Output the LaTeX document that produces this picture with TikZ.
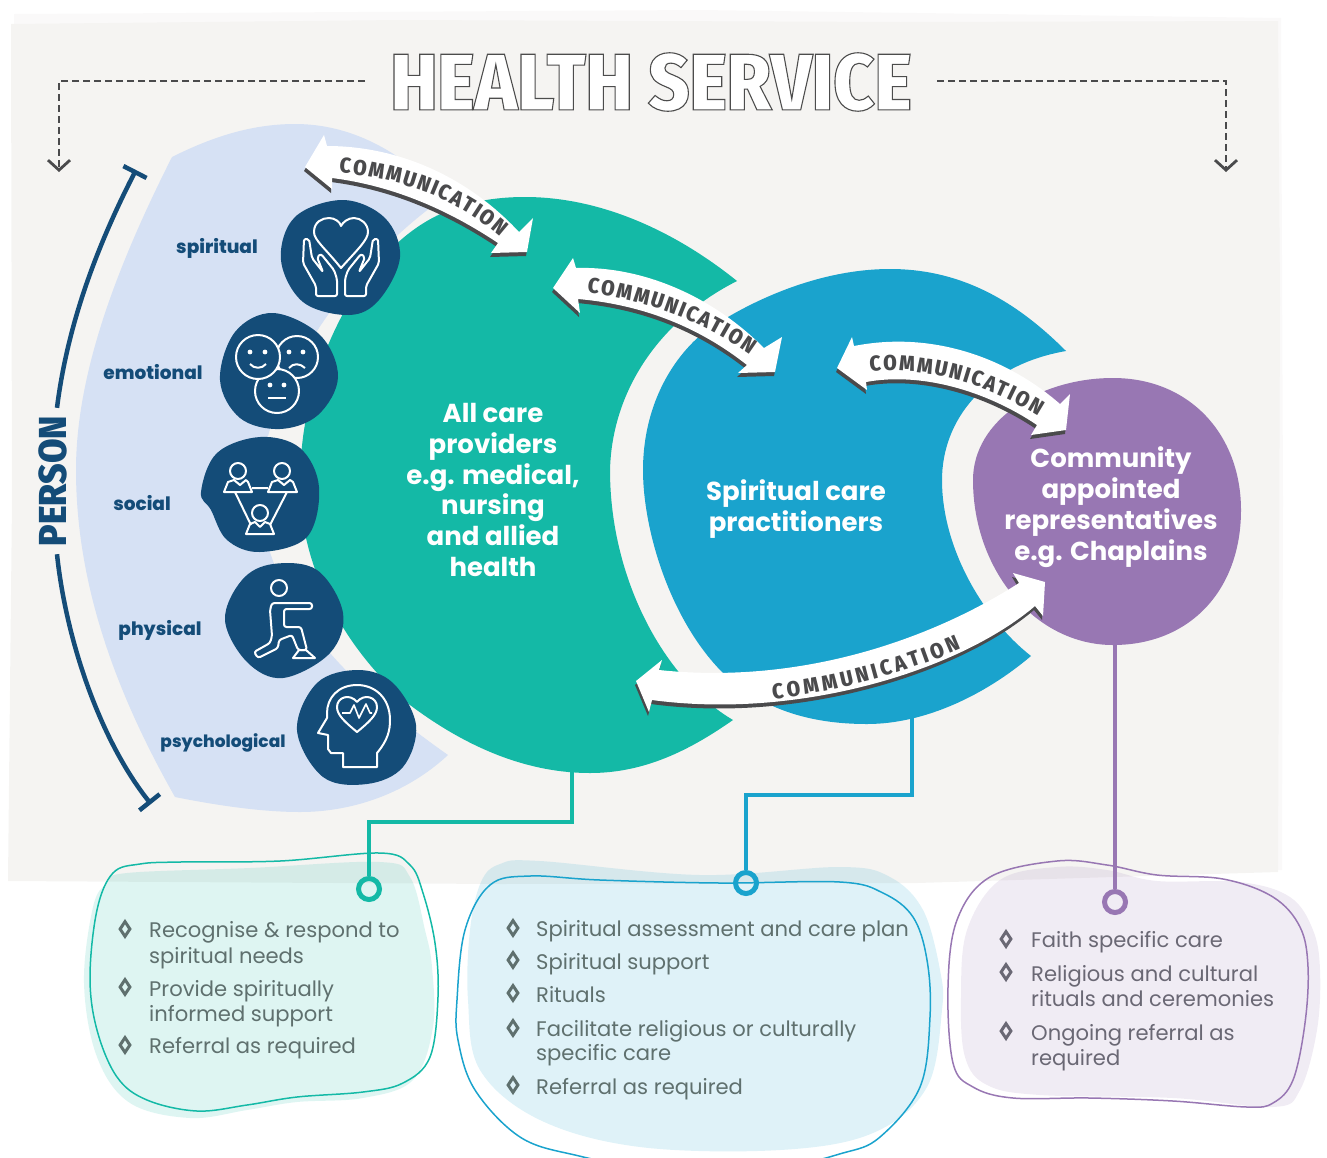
\documentclass[tikz,border=0pt]{standalone}
\usepackage{fontspec}
\usepackage{graphicx}
\setmainfont{Poppins}
\newfontfamily\narrowfont{Fira Sans Condensed ExtraBold}
\newfontfamily\heavyfont{Poppins ExtraBold}
\usetikzlibrary{arrows.meta,shapes.geometric,decorations.text}

\definecolor{paper}{HTML}{F5F4F2}
\definecolor{personblue}{HTML}{D6E1F4}
\definecolor{navy}{HTML}{144C78}
\definecolor{careteal}{HTML}{14B9A6}
\definecolor{careblue}{HTML}{1AA3CD}
\definecolor{carepurple}{HTML}{9877B3}
\definecolor{inkgrey}{HTML}{4A4A4C}
\definecolor{listgrey}{HTML}{5F706E}
\definecolor{listmauve}{HTML}{6A6874}

\newcommand{\commfont}{\fontsize{21.5}{22}\narrowfont\color{inkgrey}}

\tikzset{
    blobline/.style={line width=1.5pt},
    mainlabel/.style={text=white,align=center,font=\fontsize{26}{30.8}\selectfont\bfseries,inner sep=0},
    domainlabel/.style={text=navy,font=\fontsize{18.5}{20}\heavyfont,inner sep=0},
    iconline/.style={draw=white,line width=2pt,line join=round},
    dashline/.style={draw=inkgrey,line width=2.8pt,dash pattern=on 7pt off 4pt,-{Straight Barb[length=10pt,width=22pt,line width=2.8pt]}},
    personline/.style={draw=navy,line width=4.5pt,-{Bar[width=26pt,line width=4.5pt]}},
    ringmark/.style={circle,draw=#1,line width=5pt,minimum size=21pt,inner sep=0},
    stemline/.style={draw=#1,line width=4.5pt},
    listtext/.style={anchor=base west,inner sep=0,text=#1,font=\fontsize{21.1}{24}\selectfont},
    bulletmark/.style={diamond,draw=#1,line width=3pt,aspect=.7,minimum width=11pt,minimum height=16pt,inner sep=0},
    commlabel/.style={decorate,decoration={text along path,text align={fit to path},text={|\commfont|COMMUNICATION}}}
}

\newcommand{\commband}[2]{%
    \fill[inkgrey,shift={(-1,4)}] #1;
    \fill[white] #1;
    \path[commlabel] #2;
}

\begin{document}
\begin{tikzpicture}[x=1pt,y=-1pt,tension=.6]
    \useasboundingbox (0,0) rectangle (1327,1157);

    % paper
    \fill[paper!50!white] (14,14) -- (700,10) -- (1281,18) -- (1283,500) -- (1282,870) -- (14,880) -- cycle;
    \fill[paper] (11,24) -- (400,20) -- (900,22) -- (1278,21) -- (1280,300) -- (1278,872) -- (917,883) -- (500,884) -- (8,881) -- (12,500) -- cycle;

    % title
    \node (title) at (651,82) {\scalebox{.98}[1]{\fontsize{80}{80}\narrowfont\color{white}\special{pdf:code 2 Tr 1.1 w 0.3 0.3 0.3 RG}HEALTH SERVICE\special{pdf:code 0 Tr}}};
    \coordinate (dashleft) at (365,81);
    \coordinate (dashright) at (937,81);
    \coordinate (arrowleft) at (59,172);
    \coordinate (arrowright) at (1226,172);
    \draw[dashline] (dashleft) -| (arrowleft);
    \draw[dashline] (dashright) -| (arrowright);

    % person crescent
    \fill[personblue] (172,157) .. controls (120,260) and (76,370) .. (76,470)
        .. controls (76,590) and (120,700) .. (175,797)
        .. controls (230,808) and (270,812) .. (300,812)
        .. controls (350,812) and (405,795) .. (448,755)
        .. controls (370,700) and (260,610) .. (260,490)
        .. controls (260,400) and (340,270) .. (445,197)
        .. controls (400,150) and (350,124) .. (295,124)
        .. controls (250,124) and (210,138) .. (172,157) -- cycle;

    % care groups
    \fill[careteal] (737,281) .. controls (680,235) and (605,197) .. (525,197)
        .. controls (440,197) and (390,235) .. (345,310)
        .. controls (315,365) and (299,425) .. (300,490)
        .. controls (302,570) and (345,650) .. (410,705)
        .. controls (470,750) and (530,773) .. (590,773)
        .. controls (645,773) and (690,750) .. (733,720)
        .. controls (665,680) and (610,580) .. (610,470)
        .. controls (612,390) and (660,320) .. (737,281) -- cycle;
    \fill[careblue] (1066,351) .. controls (1020,305) and (965,269) .. (890,269)
        .. controls (820,269) and (750,300) .. (703,333)
        .. controls (665,365) and (643,415) .. (643,470)
        .. controls (643,530) and (670,620) .. (723,673)
        .. controls (765,712) and (815,724) .. (867,724)
        .. controls (925,724) and (985,695) .. (1031,656)
        .. controls (985,620) and (942,550) .. (942,480)
        .. controls (942,420) and (985,365) .. (1066,351) -- cycle;
    \fill[carepurple] (973,480) .. controls (973,420) and (1040,378) .. (1113,378)
        .. controls (1190,378) and (1241,435) .. (1241,510)
        .. controls (1241,590) and (1190,645) .. (1113,645)
        .. controls (1035,645) and (973,570) .. (973,480) -- cycle;

    \node[mainlabel] (allcare) at (493,490) {All care\\providers\\e.g. medical,\\nursing\\and allied\\health};
    \node[mainlabel] (spiritualcare) at (796,509) {Spiritual care\\practitioners};
    \node[mainlabel] (community) at (1111,507) {Community\\appointed\\representatives\\e.g. Chaplains};

    % person bracket
    \node[rotate=90,text=navy,inner sep=0,font=\fontsize{39}{40}\narrowfont] (person) at (53,481) {PERSON};
    \coordinate (persontop) at (136,170);
    \coordinate (personbottom) at (151,804);
    \draw[personline] (person.east) ++(4,-8) .. controls (68,320) and (100,240) .. (persontop);
    \draw[personline] (person.west) ++(4,8) .. controls (66,640) and (100,740) .. (personbottom);

    % domains
    \fill[navy] plot[smooth cycle] coordinates {(343,200) (385,218) (400,257) (379,300) (349,315) (303,302) (281,260) (295,217)};
    \fill[navy] plot[smooth cycle] coordinates {(273,313) (320,335) (338,377) (318,415) (280,429) (240,418) (220,380) (235,332)};
    \fill[navy] plot[smooth cycle] coordinates {(260,437) (300,448) (319,487) (307,537) (260,552) (227,540) (211,510) (201,492) (217,453)};
    \fill[navy] plot[smooth cycle] coordinates {(273,564) (317,570) (343,613) (330,653) (283,678) (247,662) (225,620) (242,580)};
    \fill[navy] plot[smooth cycle] coordinates {(358,670) (393,683) (416,725) (403,767) (367,784) (323,777) (297,730) (317,683)};

    \node[domainlabel] (spiritual) at (217,248) {spiritual};
    \node[domainlabel] (emotional) at (153,372) {emotional};
    \node[domainlabel] (social) at (142,503) {social};
    \node[domainlabel] (physical) at (160,630) {physical};
    \node[domainlabel,font=\fontsize{17}{20}\heavyfont] (psychological) at (223,743) {psychological};

    % spiritual icon
    \draw[iconline] (341,268) .. controls (325,248) and (314,240) .. (314,232) .. controls (314,222) and (322,218) .. (329,218) .. controls (335,218) and (340,222) .. (341,226) .. controls (343,222) and (348,218) .. (354,218) .. controls (361,218) and (368,224) .. (368,232) .. controls (368,240) and (357,250) .. (341,268) -- cycle;
    \foreach \s in {1,-1} {
        \begin{scope}[shift={(341,0)},xscale=\s]
            \draw[iconline,rounded corners=2pt] (-25,296) -- (-25,286) -- (-38,263) -- (-37,239) -- (-32,239) -- (-29,258) -- (-18,272) -- (-24,257) -- (-20,254) -- (-7,270) -- (-4,279) -- (-4,296) -- cycle;
        \end{scope}
    }

    % emotional icon
    \draw[iconline] (297,357) circle (21);
    \draw[iconline,fill=navy] (277,391) circle (22);
    \draw[iconline,fill=navy] (258,357) circle (22);
    \fill[white] (250,352) circle (2.4) (265,352) circle (2.4) (289,352) circle (2.4) (303,352) circle (2.4) (270,385) circle (2.4) (284,385) circle (2.4);
    \draw[iconline] (250,364) .. controls (254,369) and (262,369) .. (266,364);
    \draw[iconline] (289,368) .. controls (293,363) and (300,363) .. (305,368);
    \draw[iconline] (268,398) -- (286,398);

    % social icon
    \draw[iconline] (238,471) circle (8) (282,471) circle (8) (260,513) circle (8);
    \draw[iconline] (224,492) -- (228,482) -- (234,480) -- (240,485) -- (246,480) -- (248,482) -- (252,492) -- cycle;
    \draw[iconline] (268,492) -- (272,482) -- (278,480) -- (284,485) -- (290,480) -- (293,482) -- (297,492) -- cycle;
    \draw[iconline] (246,534) -- (250,524) -- (255,522) -- (260,527) -- (265,522) -- (270,524) -- (274,534) -- cycle;
    \draw[iconline] (252,488) -- (268,488) (235,492) -- (251,525) (287,492) -- (270,525);

    % physical icon
    \draw[iconline] (279,588) circle (8);
    \draw[iconline,rounded corners=2.5pt] (272,603) -- (312,603) -- (312,609) -- (284,609) -- (284,627) -- (301,627) -- (307,650) -- (298,650) -- (292,635) -- (279,640) -- (278,648) -- (258,658) -- (254,652) -- (270,643) -- (272,636) -- (270,610) -- cycle;
    \draw[iconline] (293,658) -- (315,658) -- (306,650) -- (299,650) -- cycle;

    % psychological icon
    \draw[iconline] (343,767) -- (377,767) -- (377,753) .. controls (388,740) and (390,730) .. (390,720) .. controls (390,698) and (375,685) .. (357,685) .. controls (338,685) and (327,698) .. (327,713) -- (327,718) -- (318,733) -- (328,735) -- (328,749) -- (331,753) -- (343,753) -- cycle;
    \draw[iconline] (357,732) .. controls (345,722) and (337,715) .. (337,707) .. controls (337,697) and (350,693) .. (357,702) .. controls (364,693) and (377,697) .. (377,707) .. controls (377,715) and (369,722) .. (357,732) -- cycle;
    \draw[iconline,line width=1.6pt] (342,713) -- (350,713) -- (354,705) -- (359,718) -- (366,704) -- (370,713) -- (372,713);

    % communication arrows
    \commband{(305,167) -- (324,135) -- (327,146) .. controls (395,146) and (465,174) .. (519,232) -- (533,218) -- (527,252) -- (491,253) -- (498,243) .. controls (450,211) and (395,186) .. (332,178) -- (332,189) -- cycle}
        {(339,173) .. controls (395,177) and (455,197) .. (500,237)}
    \commband{(553,288) -- (573,258) -- (576,268) .. controls (640,266) and (710,294) .. (764,348) -- (782,337) -- (775,372) -- (738,373) -- (747,365) .. controls (700,328) and (645,305) .. (578,299) -- (580,313) -- cycle}
        {(587,293) .. controls (640,299) and (700,319) .. (750,355)}
    \commband{(837,368) -- (852,337) -- (854,346) .. controls (930,331) and (1005,356) .. (1060,404) -- (1070,394) -- (1066,430) -- (1031,435) -- (1037,425) .. controls (985,390) and (920,372) .. (866,382) -- (867,390) -- cycle}
        {(870,372) .. controls (925,366) and (985,383) .. (1038,416)}
    \commband{(636,681) -- (662,660) -- (659,670) .. controls (800,685) and (930,640) .. (1019,583) -- (1013,573) -- (1045,582) -- (1043,616) -- (1035,606) .. controls (960,670) and (800,720) .. (652,700) -- (649,712) -- cycle}
        {(773,699) .. controls (840,691) and (905,673) .. (961,649)}

    % panels
    \fill[careteal,fill opacity=.14] plot[smooth cycle] coordinates {(127,873) (250,868) (380,862) (410,877) (425,930) (432,967) (433,1027) (413,1080) (363,1098) (297,1102) (247,1110) (190,1118) (130,1103) (97,1057) (84,983) (93,907) (107,883)};
    \draw[careteal,blobline] plot[smooth cycle] coordinates {(97,910) (113,873) (140,864) (180,862) (280,861) (380,853) (410,865) (423,893) (435,943) (438,997) (430,1057) (403,1083) (363,1092) (297,1097) (247,1105) (197,1111) (147,1100) (117,1077) (97,1030) (90,977)};

    \fill[careblue,fill opacity=.14] plot[smooth cycle] coordinates {(500,864) (540,861) (700,875) (840,867) (890,877) (923,910) (940,970) (942,1010) (927,1087) (873,1133) (780,1150) (640,1147) (540,1120) (480,1070) (468,1000) (470,930) (481,882)};
    \draw[careblue,blobline] plot[smooth cycle] coordinates {(457,1000) (465,930) (490,885) (530,876) (600,880) (720,883) (840,882) (883,893) (913,917) (927,960) (930,1017) (920,1087) (880,1137) (843,1153) (780,1165) (640,1165) (575,1155) (520,1137) (475,1090) (458,1040)};

    \fill[carepurple,fill opacity=.14] plot[smooth cycle] coordinates {(961,997) (967,930) (1000,880) (1057,867) (1107,870) (1157,881) (1240,882) (1290,897) (1313,930) (1320,970) (1317,1030) (1300,1090) (1273,1107) (1173,1098) (1040,1095) (987,1085) (965,1057)};
    \draw[carepurple,blobline] plot[smooth cycle] coordinates {(948,987) (957,920) (990,877) (1057,861) (1107,865) (1157,875) (1223,879) (1273,897) (1300,927) (1308,967) (1305,1023) (1293,1080) (1273,1103) (1247,1107) (1173,1101) (1090,1098) (1013,1098) (973,1087) (953,1063)};

    % stems from the groups to the panels
    \coordinate (tealstem) at (572,768);
    \coordinate (bluestem) at (912,718);
    \coordinate (purplestem) at (1115,644);
    \node[ringmark=careteal] (tealring) at (369,889) {};
    \node[ringmark=careblue] (bluering) at (746,883) {};
    \node[ringmark=carepurple] (purplering) at (1115,902) {};
    \draw[stemline=careteal] (tealstem) -- ++(0,54) -| (tealring.north);
    \draw[stemline=careblue] (bluestem) -- ++(0,77) -| (bluering.north);
    \draw[stemline=carepurple] (purplestem) -- (purplering.north);

    % lists
    \foreach \y in {929,987,1045} {\node[bulletmark=listgrey] at (125,\y) {};}
    \foreach \y/\t in {937/Recognise \& respond to,963/spiritual needs,996/Provide spiritually,1021/informed support,1053/Referral as required} {
        \node[listtext=listgrey] at (149,\y) {\t};
    }
    \foreach \y in {928,960,993,1028,1085} {\node[bulletmark=listgrey] at (513,\y) {};}
    \foreach \y/\t in {936/Spiritual assessment and care plan,969/Spiritual support,1002/Rituals,1036/Facilitate religious or culturally,1060/specific care,1094/Referral as required} {
        \node[listtext=listgrey] at (536,\y) {\t};
    }
    \foreach \y in {939,972,1031} {\node[bulletmark=listmauve] at (1006,\y) {};}
    \foreach \y/\t in {947/Faith specific care,981/Religious and cultural,1006/rituals and ceremonies,1040/Ongoing referral as,1065/required} {
        \node[listtext=listmauve] at (1031,\y) {\t};
    }
\end{tikzpicture}
\end{document}
